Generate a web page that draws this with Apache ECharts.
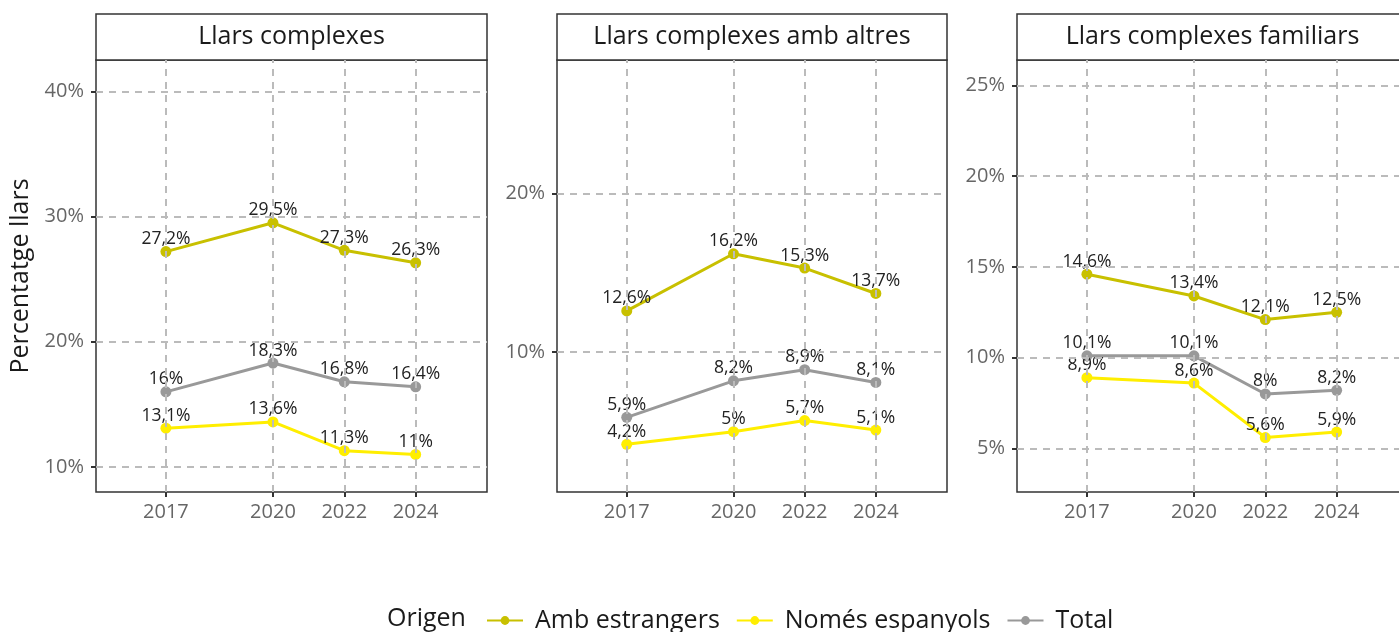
<!DOCTYPE html>
<html>
<head>
<meta charset="utf-8">
<script src="https://cdn.jsdelivr.net/npm/echarts@6/dist/echarts.min.js"></script>
<style>
  html, body { margin: 0; padding: 0; background: #fff; overflow: hidden; }
  #chart { width: 1412px; height: 632px; }
</style>
</head>
<body>
<div id="chart"></div>
<script>
// dades
const years = [2017, 2020, 2022, 2024]
const seriesNames = ['Amb estrangers', 'Només espanyols', 'Total']
const panelTitles = ['Llars complexes', 'Llars complexes amb altres', 'Llars complexes familiars']

const complexesAmb = [27.2, 29.5, 27.3, 26.3]
const complexesNomes = [13.1, 13.6, 11.3, 11.0]
const complexesTotal = [16.0, 18.3, 16.8, 16.4]

const altresAmb = [12.6, 16.2, 15.3, 13.7]
const altresNomes = [4.2, 5.0, 5.7, 5.1]
const altresTotal = [5.9, 8.2, 8.9, 8.1]

const familiarsAmb = [14.6, 13.4, 12.1, 12.5]
const familiarsNomes = [8.9, 8.6, 5.6, 5.9]
const familiarsTotal = [10.1, 10.1, 8.0, 8.2]

const yTicks1 = [10, 20, 30, 40]
const yTicks2 = [10, 20]
const yTicks3 = [5, 10, 15, 20, 25]

const colors = ['#c8c000', '#ffee00', '#999999']
const font = 'Open Sans'

const panels = [
  { values: [complexesAmb, complexesNomes, complexesTotal], ticks: yTicks1, min: 8.0, max: 42.5, left: 96, width: 391 },
  { values: [altresAmb, altresNomes, altresTotal], ticks: yTicks2, min: 1.2, max: 28.4, left: 557, width: 390 },
  { values: [familiarsAmb, familiarsNomes, familiarsTotal], ticks: yTicks3, min: 2.6, max: 26.4, left: 1017, width: 391 }
]

const fmt = (v) => String(v).replace('.', ',') + '%'

const grid = [], xAxis = [], yAxis = [], series = [], graphic = []

panels.forEach((p, i) => {
  grid.push({
    left: p.left, width: p.width, top: 60, height: 432,
    show: true, borderColor: '#333', borderWidth: 1.5, backgroundColor: '#fff', containLabel: false
  })
  xAxis.push({
    type: 'value', gridIndex: i, min: 2015.04, max: 2026,
    axisLine: { show: false },
    splitLine: { show: false },
    axisTick: { show: true, customValues: years, length: 5, lineStyle: { color: '#333', width: 2 } },
    axisLabel: { customValues: years, color: '#666', fontSize: 20, fontFamily: font, margin: 10,
      formatter: (v) => String(v) }
  })
  yAxis.push({
    type: 'value', gridIndex: i, min: p.min, max: p.max,
    name: i === 0 ? 'Percentatge llars' : '',
    nameLocation: 'middle', nameGap: 63,
    nameTextStyle: { fontSize: 25, color: '#1a1a1a', fontFamily: font },
    axisLine: { show: false },
    splitLine: { show: false },
    axisTick: { show: true, customValues: p.ticks, length: 5, lineStyle: { color: '#333', width: 2 } },
    axisLabel: { customValues: p.ticks, color: '#666', fontSize: 20, fontFamily: font, margin: 12,
      formatter: (v) => v + '%' }
  })
  // línies de la graella
  series.push({
    name: 'graella' + i, type: 'line', xAxisIndex: i, yAxisIndex: i,
    data: years.map((y, k) => [y, p.values[2][k]]),
    symbol: 'none', lineStyle: { opacity: 0 }, silent: true, z: 1,
    markLine: {
      silent: true, symbol: 'none', animation: false,
      label: { show: false },
      lineStyle: { color: '#bbbbbb', width: 2, type: [7, 6] },
      data: years.map(y => ({ xAxis: y })).concat(p.ticks.map(v => ({ yAxis: v })))
    }
  })
  seriesNames.forEach((name, s) => {
    series.push({
      name, type: 'line', xAxisIndex: i, yAxisIndex: i, z: 3,
      data: years.map((y, k) => [y, p.values[s][k]]),
      color: colors[s],
      symbol: 'circle', symbolSize: 11,
      lineStyle: { width: 3 },
      label: { show: true, position: 'top', distance: -2, color: '#222', fontSize: 17.5, fontFamily: font,
        formatter: (d) => fmt(d.value[1]) },
      animation: false
    })
  })
  graphic.push({
    type: 'rect', shape: { x: p.left, y: 14, width: p.width, height: 46 },
    style: { fill: '#fff', stroke: '#333', lineWidth: 1.5 }
  })
  graphic.push({
    type: 'text', x: p.left + p.width / 2, y: 37,
    style: { text: panelTitles[i], fontSize: 25, fontFamily: font, fill: '#1a1a1a', align: 'center', verticalAlign: 'middle' }
  })
})

graphic.push({
  type: 'text', x: 387, y: 619,
  style: { text: 'Origen', fontSize: 25, fontFamily: font, fill: '#1a1a1a', verticalAlign: 'middle' }
})

const chart = echarts.init(document.getElementById('chart'))
chart.setOption({
  animation: false,
  grid, xAxis, yAxis, series, graphic,
  legend: {
    data: seriesNames,
    left: 481, top: 603,
    itemWidth: 36, itemHeight: 11, itemGap: 16,
    textStyle: { fontSize: 25, fontFamily: font, color: '#1a1a1a', padding: [0, 0, 0, 7] }
  }
})
</script>
</body>
</html>
